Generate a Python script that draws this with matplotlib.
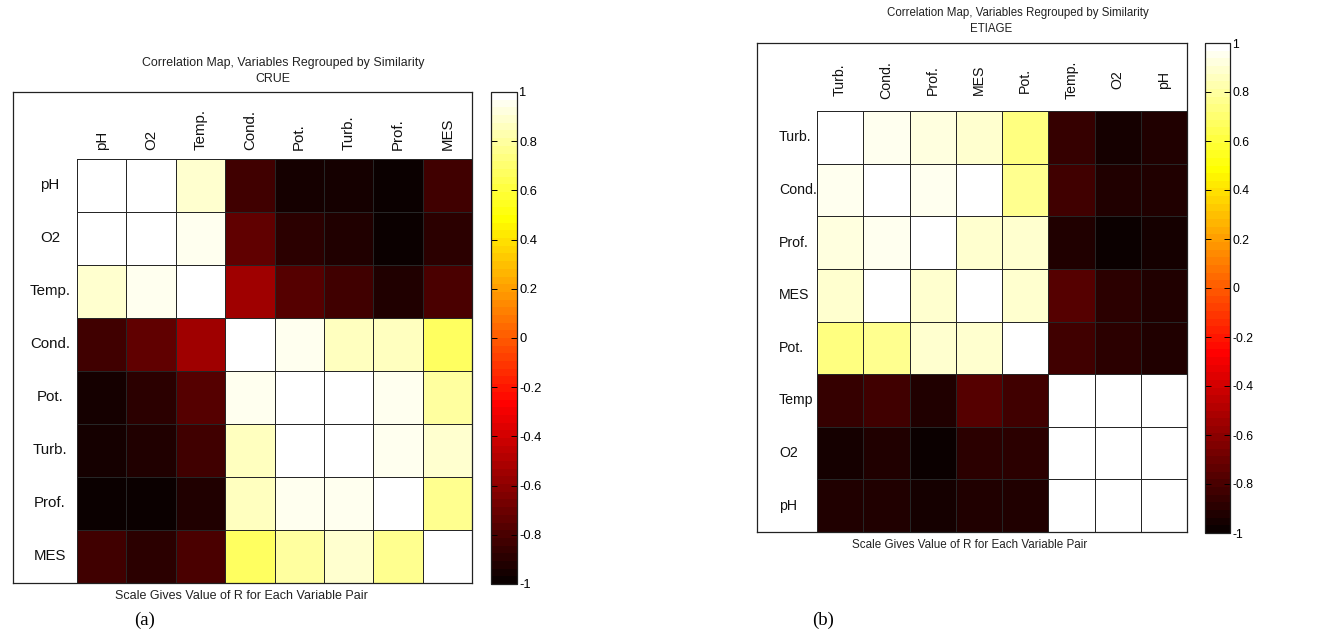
import numpy as np
import matplotlib
matplotlib.use("Agg")
import matplotlib.pyplot as plt
from matplotlib.colors import ListedColormap

# ---------------- data ----------------
labels_crue = ["pH", "O2", "Temp.", "Cond.", "Pot.", "Turb.", "Prof.", "MES"]
corr_crue = [
    [1.00, 1.00, 0.90, -0.84, -0.95, -0.95, -0.97, -0.83],
    [1.00, 1.00, 0.95, -0.72, -0.89, -0.93, -0.97, -0.88],
    [0.90, 0.95, 1.00, -0.56, -0.76, -0.83, -0.91, -0.81],
    [-0.84, -0.72, -0.56, 1.00, 0.96, 0.87, 0.87, 0.66],
    [-0.95, -0.89, -0.76, 0.96, 1.00, 1.00, 0.96, 0.79],
    [-0.95, -0.93, -0.83, 0.87, 1.00, 1.00, 0.96, 0.90],
    [-0.97, -0.97, -0.91, 0.87, 0.96, 0.96, 1.00, 0.78],
    [-0.83, -0.88, -0.81, 0.66, 0.79, 0.90, 0.78, 1.00],
]

labels_etiage_cols = ["Turb.", "Cond.", "Prof.", "MES", "Pot.", "Temp.", "O2", "pH"]
labels_etiage_rows = ["Turb.", "Cond.", "Prof.", "MES", "Pot.", "Temp", "O2", "pH"]
corr_etiage = [
    [1.00, 0.96, 0.93, 0.90, 0.73, -0.86, -0.94, -0.91],
    [0.96, 1.00, 0.95, 0.97, 0.76, -0.83, -0.92, -0.92],
    [0.93, 0.95, 1.00, 0.90, 0.88, -0.93, -0.97, -0.95],
    [0.90, 0.97, 0.90, 1.00, 0.89, -0.76, -0.88, -0.92],
    [0.73, 0.76, 0.88, 0.89, 1.00, -0.83, -0.88, -0.92],
    [-0.86, -0.83, -0.93, -0.76, -0.83, 1.00, 1.00, 0.97],
    [-0.94, -0.92, -0.97, -0.88, -0.88, 1.00, 1.00, 1.00],
    [-0.91, -0.92, -0.95, -0.92, -0.92, 0.97, 1.00, 1.00],
]

cbar_ticks = [1, 0.8, 0.6, 0.4, 0.2, 0, -0.2, -0.4, -0.6, -0.8, -1]
cbar_ticklabels = ["1", "0.8", "0.6", "0.4", "0.2", "0", "-0.2", "-0.4", "-0.6", "-0.8", "-1"]

title_main = "Correlation Map, Variables Regrouped by Similarity"
xlabel_txt = "Scale Gives Value of R for Each Variable Pair"

# ---------------- style ----------------
W, H = 1320, 635
fig = plt.figure(figsize=(W / 100, H / 100), dpi=100)
SANS = ["Liberation Sans", "DejaVu Sans"]
SERIF = ["Liberation Serif", "DejaVu Serif"]

# MATLAB hot(64)
n = 64
n1 = 24
r = np.concatenate([np.arange(1, n1 + 1) / n1, np.ones(n - n1)])
g = np.concatenate([np.zeros(n1), np.arange(1, n1 + 1) / n1, np.ones(n - 2 * n1)])
b = np.concatenate([np.zeros(2 * n1), np.arange(1, n - 2 * n1 + 1) / (n - 2 * n1)])
hot = ListedColormap(np.column_stack([r, g, b]))


def px_axes(left, top, right, bottom):
    return fig.add_axes([left / W, 1 - bottom / H, (right - left) / W, (bottom - top) / H])


def fig_text(x, y, s, **kw):
    fig.text(x / W, 1 - y / H, s, **kw)


def panel(box, grid, data, col_labels, row_labels, cbox, fs_lab, fs_small, fs_x,
          row_x, row_ha, col_y, col_va, titles, xlab, tag):
    bl, bt, br, bb = box
    gl, gt = grid
    ax = px_axes(bl, bt, br, bb)
    nc = len(col_labels)
    cw = (br - gl) / nc
    ch = (bb - gt) / nc
    ax.set_xlim(-(gl - bl) / cw, nc)
    ax.set_ylim(nc, -(gt - bt) / ch)
    mesh = ax.pcolormesh(np.arange(nc + 1), np.arange(nc + 1), np.array(data),
                         cmap=hot, vmin=-1, vmax=1, edgecolors="#262626", linewidth=0.55)
    ax.set_xticks([])
    ax.set_yticks([])
    for s in ax.spines.values():
        s.set_linewidth(0.9)
        s.set_color("#222222")
    rx = (row_x - gl) / cw
    for i, lab in enumerate(row_labels):
        ax.text(rx, i + 0.5, lab, ha=row_ha, va="center", fontsize=fs_lab, family=SANS, color="#111111")
    cy = (col_y - gt) / ch
    for j, lab in enumerate(col_labels):
        ax.text(j + 0.5, cy, lab, ha="center", va=col_va, rotation=90, fontsize=fs_lab,
                family=SANS, color="#111111")
    # colorbar
    cl, ct, cr, cb_ = cbox
    cax = px_axes(cl, ct, cr, cb_)
    cbar = fig.colorbar(mesh, cax=cax, ticks=cbar_ticks)
    cbar.ax.set_yticklabels(cbar_ticklabels, fontsize=fs_lab * 0.86, family=SANS)
    cbar.ax.tick_params(direction="in", left=True, right=True, length=4, width=0.7, pad=1.5)
    cbar.outline.set_linewidth(0.9)
    cbar.outline.set_edgecolor("#222222")
    # titles
    (t1x, t1y), (t2x, t2y), title2 = titles
    fig_text(t1x, t1y, title_main, ha="center", va="center", fontsize=fs_small, family=SANS, color="#222222")
    fig_text(t2x, t2y, title2, ha="center", va="center", fontsize=fs_small, family=SANS, color="#222222")
    fig_text(xlab[0], xlab[1], xlabel_txt, ha="center", va="center", fontsize=fs_x, family=SANS, color="#222222")
    fig_text(tag[0], tag[1], tag[2], ha="center", va="center", fontsize=13.5, family=SERIF, color="black")


panel(box=(13, 92, 472, 583), grid=(77, 159), data=corr_crue,
      col_labels=labels_crue, row_labels=labels_crue, cbox=(491, 92, 517, 584),
      fs_lab=10.8, fs_small=8.9, fs_x=9.0, row_x=50, row_ha="center", col_y=150, col_va="bottom",
      titles=((283, 63), (273, 79), "CRUE"), xlab=(241, 596), tag=(145, 620, "(a)"))

panel(box=(757, 43, 1187, 532), grid=(817, 111), data=corr_etiage,
      col_labels=labels_etiage_cols, row_labels=labels_etiage_rows, cbox=(1205, 43, 1230, 533),
      fs_lab=10.2, fs_small=8.3, fs_x=8.4, row_x=779, row_ha="left", col_y=80, col_va="center",
      titles=((1018, 13), (991, 29), "ETIAGE"), xlab=(970, 545), tag=(823, 620, "(b)"))

fig.savefig("out.png", dpi=100)
